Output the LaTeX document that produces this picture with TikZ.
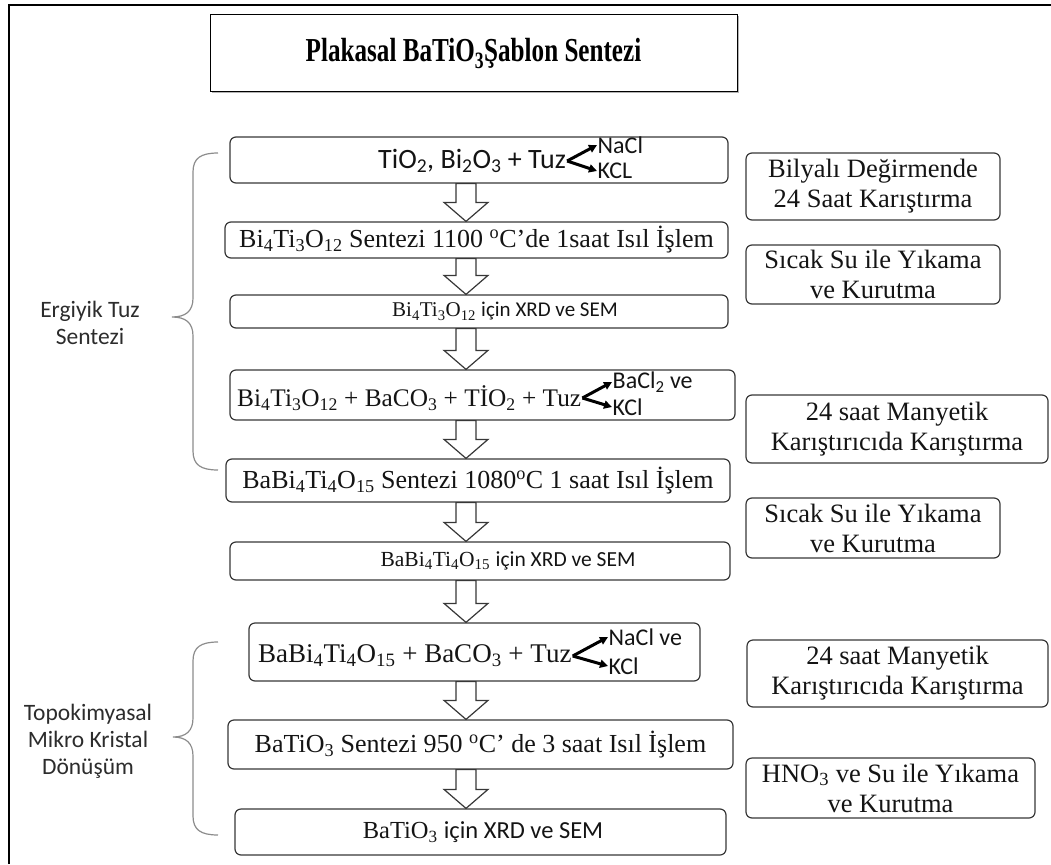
\documentclass[tikz,border=0pt]{standalone}
\usepackage{fontspec}
\setmainfont{Liberation Serif}
\newfontfamily\calib{Carlito}
\newfontfamily\titlefont[FakeStretch=0.75]{Liberation Serif}
\usetikzlibrary{arrows.meta,calc,shadows}
\definecolor{frame}{RGB}{55,55,55}
\definecolor{bracegray}{RGB}{140,140,140}
\definecolor{ink}{RGB}{20,20,20}
\tikzset{
  stepbox/.style={draw=frame,rounded corners=6pt,line width=1.2pt,inner sep=0pt,
    font=\fontsize{26}{29}\selectfont,text=ink},
  sidebox/.style={stepbox,align=center,font=\fontsize{26.5}{30}\selectfont},
  titlebox/.style={draw=black,line width=1pt,fill=white,inner sep=0pt,
    font=\fontsize{33.5}{36}\selectfont\titlefont\bfseries,
    drop shadow={shadow xshift=1.5pt,shadow yshift=-1.5pt,opacity=0.6}},
  txt/.style={inner sep=1pt,font=\fontsize{26}{29}\selectfont,text=ink},
  caltxt/.style={inner sep=1pt,font=\calib\fontsize{28}{30}\selectfont,text=ink},
  salt/.style={inner sep=0.5pt,font=\calib\fontsize{24}{26}\selectfont,text=ink},
  side/.style={align=center,font=\calib\fontsize{23.5}{27}\selectfont,text=ink!90},
  branch/.style={-{Triangle[length=8pt,width=8pt]},line width=3pt,black},
  blockarrow/.style={draw=frame,line width=1.2pt,fill=white},
  curly/.style={draw=bracegray,line width=1.2pt},
}
\def\arrx{466pt}
\newcommand\hollowarrow[2]{%
  \draw[blockarrow] let \p1=(#1.south), \p2=(#2.north) in
    ({\arrx-10pt},\y1) -- ({\arrx+10pt},\y1) -- ({\arrx+10pt},{\y2+19pt})
    -- ({\arrx+22pt},{\y2+19pt}) -- (\arrx,\y2) -- ({\arrx-22pt},{\y2+19pt})
    -- ({\arrx-10pt},{\y2+19pt}) -- cycle;}

\begin{document}
\begin{tikzpicture}[x=1pt,y=-1pt]
\useasboundingbox (0,0) rectangle (1051,864);
\draw[line width=2pt] (9,864) -- (9,5) -- (1051,5);

% title
\node[titlebox,minimum width=527,minimum height=77] (title) at (473.5,53.5)
  {Plakasal BaTiO\textsubscript{3}Şablon Sentezi};

% main column
\node[stepbox,minimum width=498,minimum height=46] (b1) at (479,160) {};
\node[caltxt,anchor=west] (f1) at (377,161) {TiO\textsubscript{2}, Bi\textsubscript{2}O\textsubscript{3} + Tuz};
\node[salt,anchor=west] (na1) at (597,145) {NaCl};
\node[salt,anchor=west] (k1) at (597,171) {KCL};
\draw[branch] (f1.east) -- (na1.west);
\draw[branch] (f1.east) -- (k1.west);

\node[stepbox,minimum width=503,minimum height=36] (b2) at (476.5,240)
  {Bi\textsubscript{4}Ti\textsubscript{3}O\textsubscript{12} Sentezi 1100 \textsuperscript{o}C’de 1saat Isıl İşlem};

\node[stepbox,minimum width=498,minimum height=33] (b3) at (479,311.5) {};
\node[txt,font=\fontsize{21}{25}\selectfont] (t3) at (505,311.5)
  {Bi\textsubscript{4}Ti\textsubscript{3}O\textsubscript{12} {\calib için XRD ve SEM}};

\node[stepbox,minimum width=505,minimum height=50] (b4) at (482.5,395) {};
\node[txt,anchor=west,font=\fontsize{25.3}{29}\selectfont] (f4) at (236,398)
  {Bi\textsubscript{4}Ti\textsubscript{3}O\textsubscript{12} + BaCO\textsubscript{3} + TİO\textsubscript{2} + Tuz};
\node[salt,anchor=west] (na4) at (612,382) {BaCl\textsubscript{2} ve};
\node[salt,anchor=west] (k4) at (612,407) {KCl};
\draw[branch] (f4.east) -- (na4.west);
\draw[branch] (f4.east) -- (k4.west);

\node[stepbox,minimum width=504,minimum height=43] (b5) at (478,480.5)
  {BaBi\textsubscript{4}Ti\textsubscript{4}O\textsubscript{15} Sentezi 1080\textsuperscript{o}C 1 saat Isıl İşlem};

\node[stepbox,minimum width=500,minimum height=38] (b6) at (480,561) {};
\node[txt,font=\fontsize{21.5}{25}\selectfont] (t6) at (508,561)
  {BaBi\textsubscript{4}Ti\textsubscript{4}O\textsubscript{15} {\calib için XRD ve SEM}};

\node[stepbox,minimum width=451,minimum height=58] (b7) at (474.5,652) {};
\node[txt,anchor=west,font=\fontsize{27}{30}\selectfont] (f7) at (257,656)
  {BaBi\textsubscript{4}Ti\textsubscript{4}O\textsubscript{15} + BaCO\textsubscript{3} + Tuz};
\node[salt,anchor=west] (na7) at (608,637) {NaCl ve};
\node[salt,anchor=west] (k7) at (608,666) {KCl};
\draw[branch] (f7.east) -- (na7.west);
\draw[branch] (f7.east) -- (k7.west);

\node[stepbox,minimum width=505,minimum height=49] (b8) at (480.5,744.5)
  {BaTiO\textsubscript{3} Sentezi 950 \textsuperscript{o}C’ de 3 saat Isıl İşlem};

\node[stepbox,minimum width=491,minimum height=46] (b9) at (480.5,832) {};
\node[txt,font=\fontsize{24.5}{28}\selectfont] (t9) at (483,832)
  {BaTiO\textsubscript{3} {\calib için XRD ve SEM}};

\foreach \a/\b in {b1/b2,b2/b3,b3/b4,b4/b5,b5/b6,b6/b7,b7/b8,b8/b9}
  \hollowarrow{\a}{\b};

% side steps
\node[sidebox,minimum width=254,minimum height=67] (r1) at (873,186.5) {Bilyalı Değirmende\\24 Saat Karıştırma};
\node[sidebox,minimum width=254,minimum height=59] (r2) at (873,274.5) {Sıcak Su ile Yıkama\\ve Kurutma};
\node[sidebox,minimum width=302,minimum height=68] (r3) at (897,429) {24 saat Manyetik\\Karıştırıcıda Karıştırma};
\node[sidebox,minimum width=254,minimum height=60] (r4) at (873,528) {Sıcak Su ile Yıkama\\ve Kurutma};
\node[sidebox,minimum width=301,minimum height=67] (r5) at (897.5,673.5) {24 saat Manyetik\\Karıştırıcıda Karıştırma};
\node[sidebox,minimum width=289,minimum height=60] (r6) at (890.5,788) {HNO\textsubscript{3} ve Su ile Yıkama\\ve Kurutma};

% stages
\draw[curly] (218,153) .. controls (201,153) and (193,158) .. (193,172) -- (193,298)
  .. controls (193,311) and (186,317) .. (172,317) .. controls (186,317) and (193,323) .. (193,336)
  -- (193,451) .. controls (193,465) and (201,470) .. (218,470);
\node[side] (s1) at (90,323) {Ergiyik Tuz\\Sentezi};
\draw[curly] (218,642) .. controls (201,642) and (193,647) .. (193,661) -- (193,718)
  .. controls (193,731) and (186,737) .. (173,737) .. controls (186,737) and (193,743) .. (193,756)
  -- (193,816) .. controls (193,830) and (201,835) .. (218,835);
\node[side] (s2) at (88,741) {Topokimyasal\\Mikro Kristal\\Dönüşüm};
\end{tikzpicture}
\end{document}
